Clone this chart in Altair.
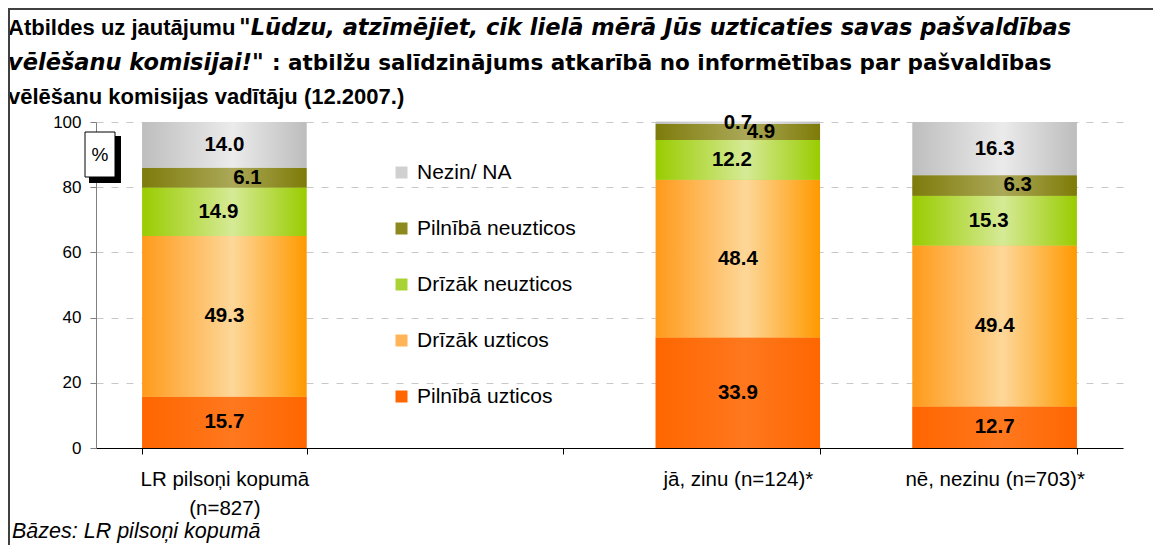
import altair as alt
import pandas as pd

# ---------------- data ----------------
groups = ["LR pilsoņi kopumā\n(n=827)", " ", "jā, zinu (n=124)*", "nē, nezinu (n=703)*"]
data_groups = ["LR pilsoņi kopumā\n(n=827)", "jā, zinu (n=124)*", "nē, nezinu (n=703)*"]
series_stack = ["Pilnībā uzticos", "Drīzāk uzticos", "Drīzāk neuzticos", "Pilnībā neuzticos", "Nezin/ NA"]
legend_order = ["Nezin/ NA", "Pilnībā neuzticos", "Drīzāk neuzticos", "Drīzāk uzticos", "Pilnībā uzticos"]
vals_lr = [15.7, 49.3, 14.9, 6.1, 14.0]
vals_ja = [33.9, 48.4, 12.2, 4.9, 0.7]
vals_ne = [12.7, 49.4, 15.3, 6.3, 16.3]
y_ticks = [0, 20, 40, 60, 80, 100]

title_l1a = "Atbildes uz jautājumu"
title_l1b = "\"Lūdzu, atzīmējiet, cik lielā mērā Jūs uzticaties savas pašvaldības"
title_l2a = "vēlēšanu komisijai!\""
title_l2b = ": atbilžu salīdzinājums atkarībā no informētības par pašvaldības"
title_l3 = "vēlēšanu komisijas vadītāju (12.2007.)"
footer = "Bāzes: LR pilsoņi kopumā"

rows = []
for g, vals in zip(data_groups, [vals_lr, vals_ja, vals_ne]):
    for i, (s, v) in enumerate(zip(series_stack, vals)):
        rows.append({"group": g, "series": s, "value": v, "order": i})
df = pd.DataFrame(rows)

# ---------------- style ----------------
FONT = "Liberation Sans"
WIDE = "DejaVu Sans"
solid = ["#D0D0D0", "#8C8A1E", "#A9D334", "#FFB458", "#FF6600"]  # legend order
grad = {
    "Nezin/ NA": ["#BEBEBE", "#EBEBEB", "#BDBDBD"],
    "Pilnībā neuzticos": ["#7E7B0C", "#ABA858", "#7E7B08"],
    "Drīzāk neuzticos": ["#99CC00", "#D6EA96", "#99CC00"],
    "Drīzāk uzticos": ["#FF9A1A", "#FDD799", "#FF9900"],
    "Pilnībā uzticos": ["#FF6600", "#FF781E", "#FF6600"],
}
label_dx = {"Pilnībā neuzticos": 23, "Drīzāk neuzticos": -6}

X = alt.X(
    "group:N",
    scale=alt.Scale(domain=groups, paddingInner=0.36, paddingOuter=0.18),
    axis=alt.Axis(
        title=None, labelExpr="isValid(datum.value) ? split(datum.value, '\\n') : ''",
        labelFontSize=20.5, labelColor="black", labelFont=FONT, labelPadding=15,
        labelLineHeight=29, tickSize=6, tickColor="black", domainColor="black",
        tickBand="extent", labelAngle=0, grid=False,
    ),
)
Y = alt.Y(
    "y0:Q",
    scale=alt.Scale(domain=[0, 100], nice=False),
    axis=alt.Axis(
        title=None, values=y_ticks, labelFontSize=17, labelColor="black", labelFont=FONT,
        tickSize=6, tickColor="#808080", domainColor="#808080", gridDash=[7, 8],
        gridColor="#C8C8C8", labelPadding=9, format="d",
    ),
)
Y2 = alt.Y2("y1:Q")

base = (
    alt.Chart(df)
    .transform_stack(stack="value", groupby=["group"], sort=[alt.SortField("order", "ascending")], as_=["y0", "y1"])
    .transform_calculate(ymid="(datum.y0 + datum.y1) / 2", lbl="format(datum.value, '.1f')")
)

layers = []
# solid bars carrying the legend
layers.append(
    base.mark_bar().encode(
        x=X, y=Y, y2=Y2,
        color=alt.Color(
            "series:N",
            scale=alt.Scale(domain=legend_order, range=solid),
            legend=alt.Legend(
                title=None, orient="none", legendX=295, legendY=40, symbolType="square",
                symbolSize=144, symbolStrokeWidth=0, labelFontSize=21, labelFont=FONT,
                labelColor="black", rowPadding=34, labelOffset=5, padding=0,
            ),
        ),
    )
)
for s in series_stack:
    c = grad[s]
    g = alt.LinearGradient(
        gradient="linear",
        stops=[alt.GradientStop(offset=0, color=c[0]), alt.GradientStop(offset=0.55, color=c[1]),
               alt.GradientStop(offset=1, color=c[2])],
        x1=0, x2=1, y1=0, y2=0,
    )
    layers.append(base.transform_filter(alt.datum.series == s).mark_bar(color=g).encode(x=X, y=Y, y2=Y2))
for s in series_stack:
    layers.append(
        base.transform_filter(alt.datum.series == s)
        .mark_text(font=FONT, fontSize=20.5, fontWeight="bold", color="black", baseline="middle",
                   align="center", dx=label_dx.get(s, 0))
        .encode(x=X, y=alt.Y("ymid:Q"), text="lbl:N")
    )

one = pd.DataFrame({"k": [0]})


def txt(text, x, y, size, font=FONT, bold=True, italic=False, align="left"):
    return alt.Chart(one).mark_text(
        text=text, font=font, fontSize=size, fontWeight="bold" if bold else "normal",
        fontStyle="italic" if italic else "normal", align=align, baseline="alphabetic", color="black",
    ).encode(x=alt.value(x), y=alt.value(y))


# title (mixed styles)
layers += [
    txt(title_l1a, -88, -87, 22),
    txt(title_l1b, 143, -87, 22.5, font=WIDE, italic=True),
    txt(title_l2a, -88, -52, 22.5, font=WIDE, italic=True),
    txt(title_l2b, 176, -52, 21.5, font=WIDE),
    txt(title_l3, -88, -18, 22),
    txt(footer, -84, 416, 21.5, bold=False, italic=True),
]

# "%" box with shadow
layers += [
    alt.Chart(one).mark_rect(color="black").encode(
        x=alt.value(-7), x2=alt.value(25), y=alt.value(14), y2=alt.value(61)),
    alt.Chart(one).mark_rect(fill="white", stroke="black", strokeWidth=1).encode(
        x=alt.value(-11), x2=alt.value(19), y=alt.value(10), y2=alt.value(55)),
    alt.Chart(one).mark_text(text="%", font=FONT, fontSize=19, color="black", align="center",
                             baseline="middle").encode(x=alt.value(4), y=alt.value(33)),
]

# outer frame (top and left edges)
layers += [
    alt.Chart(one).mark_rule(color="#404040", strokeWidth=2).encode(
        x=alt.value(-88), x2=alt.value(1100), y=alt.value(-113)),
    alt.Chart(one).mark_rule(color="#404040", strokeWidth=2).encode(
        x=alt.value(-87), y=alt.value(-114), y2=alt.value(430)),
]

chart = (
    alt.layer(*layers)
    .properties(
        width=1027, height=326,
        padding={"left": 88, "top": 114, "right": 30, "bottom": 97},
        autosize=alt.AutoSizeParams(type="none"),
        background="white",
    )
    .configure_view(strokeWidth=0)
)

chart.save("out.html", embed_options={"renderer": "svg", "actions": False})
